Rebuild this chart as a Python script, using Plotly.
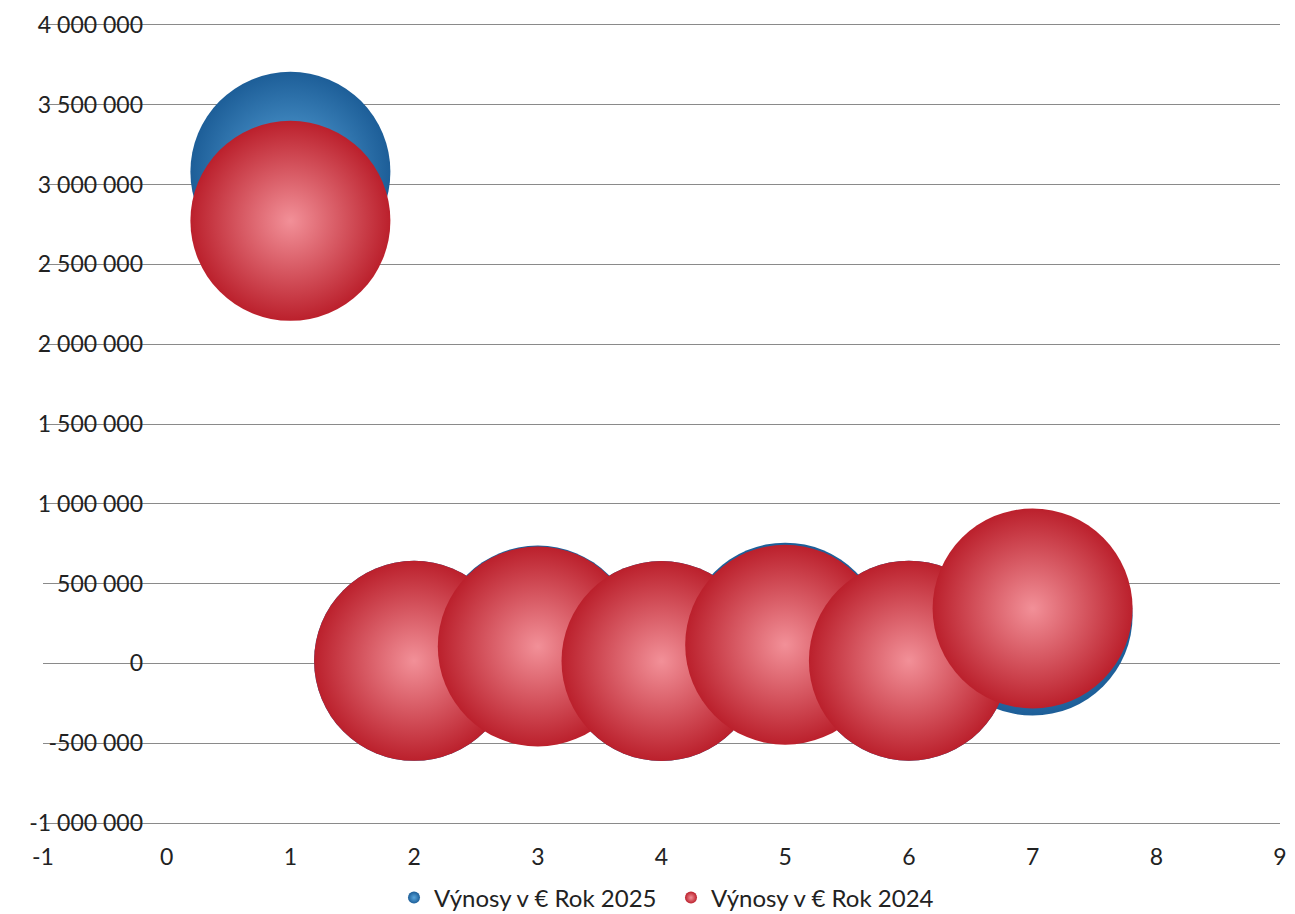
import plotly.graph_objects as go

# ---- data ----
x_2025 = [1, 2, 3, 4, 5, 6, 7]
y_2025 = [3080000, 16000, 112000, 15000, 130000, 17000, 300000]
size_2025 = [1, 1, 1, 1, 1, 1, 1]

x_2024 = [1, 2, 3, 4, 5, 6, 7]
y_2024 = [2773000, 16000, 106000, 15000, 117000, 17000, 344000]
size_2024 = [1, 1, 1, 1, 1, 1, 1]

series_names = ["Výnosy v € Rok 2025", "Výnosy v € Rok 2024"]

y_tickvals = [4000000, 3500000, 3000000, 2500000, 2000000, 1500000, 1000000,
              500000, 0, -500000, -1000000]
y_ticktext = ["4 000 000", "3 500 000", "3 000 000", "2 500 000", "2 000 000",
              "1 500 000", "1 000 000", "500 000", "0", "-500 000", "-1 000 000"]
x_tickvals = [-1, 0, 1, 2, 3, 4, 5, 6, 7, 8, 9]
x_ticktext = [str(v) for v in x_tickvals]

# ---- figure ----
W, H = 1295, 914
ML, MR, MT, MB = 43, 15, 25, 91
PW, PH = W - ML - MR, H - MT - MB
DIAM = 200  # bubble diameter in px for size 1

fig = go.Figure()
fig.add_trace(go.Scatter(
    x=x_2025, y=y_2025, mode="markers", name=series_names[0],
    marker=dict(size=size_2025, sizemode="diameter", sizeref=1.0 / DIAM,
                color="#1d5e98",
                gradient=dict(type="radial", color="#5aa6dc"),
                line=dict(width=0), opacity=1),
))
fig.add_trace(go.Scatter(
    x=x_2024, y=y_2024, mode="markers", name=series_names[1],
    marker=dict(size=size_2024, sizemode="diameter", sizeref=1.0 / DIAM,
                color="#bb202c",
                gradient=dict(type="radial", color="#f29098"),
                line=dict(width=0), opacity=1),
))

font_family = "Lato, 'Open Sans', sans-serif"
fig.update_layout(
    width=W, height=H,
    margin=dict(l=ML, r=MR, t=MT, b=MB, autoexpand=False),
    paper_bgcolor="white", plot_bgcolor="white",
    font=dict(family=font_family, size=23, color="#222222"),
    showlegend=True,
    legend=dict(orientation="h", x=(671 - ML) / PW, xanchor="center",
                y=-(898 - (H - MB)) / PH, yanchor="middle",
                itemsizing="constant", entrywidth=232, entrywidthmode="pixels",
                font=dict(size=24, color="#222222"),
                bgcolor="rgba(0,0,0,0)"),
    xaxis=dict(range=[-1, 9], tickvals=x_tickvals, ticktext=x_ticktext,
               showgrid=False, zeroline=False,
               showline=True, mirror=True, linecolor="#8a8a8a", linewidth=1,
               ticks="", ticklabelstandoff=13,
               tickfont=dict(size=23, color="#222222")),
    yaxis=dict(range=[-1000000, 4000000], tickvals=y_tickvals, ticktext=y_ticktext,
               showgrid=True, gridcolor="#8a8a8a", gridwidth=1,
               zeroline=False, showline=False, ticks="",
               anchor="free", position=(143 - ML) / PW,
               tickfont=dict(size=23, color="#222222")),
)

fig.write_html("out.html", config={"displayModeBar": False},
               post_script="document.body.style.margin='0';")
